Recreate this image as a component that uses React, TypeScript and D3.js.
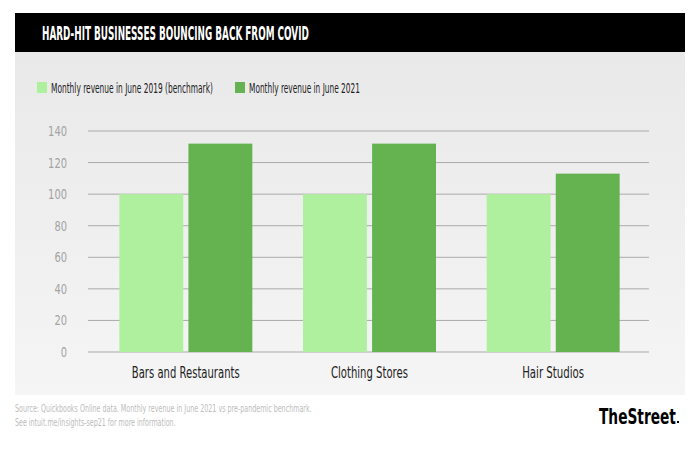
import * as d3 from 'd3';
import { useEffect, useRef } from 'react';

// chart data
const categories = ['Bars and Restaurants', 'Clothing Stores', 'Hair Studios'];
const seriesNames = ['Monthly revenue in June 2019 (benchmark)', 'Monthly revenue in June 2021'];
const benchmark2019 = [100, 100, 100];
const revenue2021 = [132, 132, 113];
const yTicks = [0, 20, 40, 60, 80, 100, 120, 140];

const colors = ['#aff09e', '#64b250'];
const font = '"DejaVu Sans", sans-serif';

const App = () => {
  const ref = useRef<SVGSVGElement>(null);

  useEffect(() => {
    const svg = d3.select(ref.current);
    svg.selectAll('*').remove();

    const width = 700, height = 449;
    svg.attr('width', width).attr('height', height);

    // background gradient for the panel
    const defs = svg.append('defs');
    const grad = defs.append('linearGradient').attr('id', 'panelGrad')
      .attr('x1', 0).attr('y1', 0).attr('x2', 0).attr('y2', 1);
    grad.append('stop').attr('offset', '0%').attr('stop-color', '#e9e9e9');
    grad.append('stop').attr('offset', '100%').attr('stop-color', '#f5f5f5');

    svg.append('rect').attr('width', width).attr('height', height).attr('fill', '#fff');
    svg.append('rect').attr('x', 15).attr('y', 52).attr('width', 670).attr('height', 343)
      .attr('fill', 'url(#panelGrad)');

    // condensed look: draw text normally, then squeeze horizontally to the measured width
    const label = (x: number, yy: number, txt: string, size: number, w: number, fill: string, bold = false) => {
      const g = svg.append('g');
      const t = g.append('text')
        .attr('fill', fill).attr('font-family', font)
        .attr('font-weight', bold ? 'bold' : 'normal')
        .attr('font-size', size)
        .text(txt);
      const natural = (t.node() as SVGTextElement).getComputedTextLength() || w;
      g.attr('transform', `translate(${x},${yy}) scale(${w / natural},1)`);
      return g;
    };

    // header bar
    svg.append('rect').attr('x', 15).attr('y', 13).attr('width', 670).attr('height', 39).attr('fill', '#000');
    label(42, 40, 'HARD-HIT BUSINESSES BOUNCING BACK FROM COVID', 19, 267, '#fff', true);

    // legend
    const legendX = [37, 235];
    const legendW = [162, 111];
    seriesNames.forEach((name, i) => {
      svg.append('rect').attr('x', legendX[i]).attr('y', 82).attr('width', 10).attr('height', 11)
        .attr('fill', colors[i]);
      label(legendX[i] + 14, 93, name, 14, legendW[i], '#222');
    });

    // scales
    const y = d3.scaleLinear().domain([0, 140]).range([352, 131]);
    const x0 = d3.scaleBand().domain(categories).range([94, 645]).paddingInner(0.276).paddingOuter(0.138);
    const x1 = d3.scaleBand().domain(['0', '1']).range([0, x0.bandwidth()]).paddingInner(0.075);

    // gridlines + tick labels
    const grid = svg.append('g');
    grid.selectAll('line').data(yTicks).enter().append('line')
      .attr('x1', 88).attr('x2', 649)
      .attr('y1', d => y(d)).attr('y2', d => y(d))
      .attr('stroke', '#aaa').attr('stroke-width', 1);
    yTicks.forEach(d => {
      const w = String(d).length * 6.3;
      label(67 - w, y(d) + 5, String(d), 14, w, '#a3a3a3');
    });

    // bars
    const rows = categories.map((c, i) => ({ cat: c, values: [benchmark2019[i], revenue2021[i]] }));
    const groups = svg.append('g').selectAll('g').data(rows).enter().append('g')
      .attr('transform', d => `translate(${x0(d.cat)},0)`);
    groups.selectAll('rect').data(d => d.values.map((v, i) => ({ v, i }))).enter().append('rect')
      .attr('x', d => x1(String(d.i))!)
      .attr('y', d => y(d.v))
      .attr('width', x1.bandwidth())
      .attr('height', d => y(0) - y(d.v))
      .attr('fill', d => colors[d.i]);

    // category labels
    const catW = [108, 77, 62];
    categories.forEach((c, i) => {
      label(x0(c)! + x0.bandwidth() / 2 - catW[i] / 2, 378, c, 15, catW[i], '#222');
    });

    // footer
    label(15, 412, 'Source: Quickbooks Online data.  Monthly revenue in June 2021 vs pre-pandemic benchmark.',
      10, 297, '#bdbdbd');
    label(15, 426, 'See intuit.me/insights-sep21 for more information.', 10, 161, '#bdbdbd');

    // logo
    label(599, 424, 'TheStreet', 22, 77, '#000', true);
    svg.append('rect').attr('x', 677).attr('y', 421).attr('width', 2).attr('height', 2).attr('fill', '#000');
  }, []);

  return <svg ref={ref} style={{ position: 'absolute', left: 0, top: 0 }}></svg>;
};

export default App;
